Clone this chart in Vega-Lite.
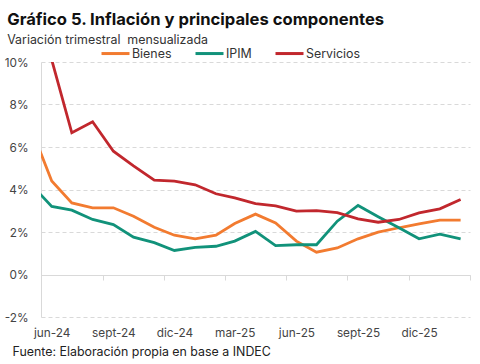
{
  "$schema": "https://vega.github.io/schema/vega-lite/v6.json",
  "width": 429,
  "height": 255,
  "autosize": "none",
  "padding": {"left": 41, "top": 62, "right": 10, "bottom": 47},
  "background": "white",
  "config": {"font": "Inter", "view": {"stroke": null}},
  "title": {
    "text": "Gráfico 5. Inflación y principales componentes",
    "subtitle": "Variación trimestral\u00a0 mensualizada",
    "anchor": "start",
    "frame": "bounds",
    "dx": 3,
    "fontSize": 16.6,
    "fontWeight": "bold",
    "color": "#111111",
    "subtitleFontSize": 12.4,
    "subtitleColor": "#333333",
    "subtitlePadding": 5,
    "offset": -8
  },
  "data": {
    "values": [
      {"mes": "2024-05-01T00:00:00", "serie": "Bienes", "valor": 6.9},
      {"mes": "2024-06-01T00:00:00", "serie": "Bienes", "valor": 4.4},
      {"mes": "2024-07-01T00:00:00", "serie": "Bienes", "valor": 3.37},
      {"mes": "2024-08-01T00:00:00", "serie": "Bienes", "valor": 3.14},
      {"mes": "2024-09-01T00:00:00", "serie": "Bienes", "valor": 3.14},
      {"mes": "2024-10-01T00:00:00", "serie": "Bienes", "valor": 2.74},
      {"mes": "2024-11-01T00:00:00", "serie": "Bienes", "valor": 2.22},
      {"mes": "2024-12-01T00:00:00", "serie": "Bienes", "valor": 1.85},
      {"mes": "2025-01-01T00:00:00", "serie": "Bienes", "valor": 1.68},
      {"mes": "2025-02-01T00:00:00", "serie": "Bienes", "valor": 1.85},
      {"mes": "2025-03-01T00:00:00", "serie": "Bienes", "valor": 2.4},
      {"mes": "2025-04-01T00:00:00", "serie": "Bienes", "valor": 2.84},
      {"mes": "2025-05-01T00:00:00", "serie": "Bienes", "valor": 2.43},
      {"mes": "2025-06-01T00:00:00", "serie": "Bienes", "valor": 1.57},
      {"mes": "2025-07-01T00:00:00", "serie": "Bienes", "valor": 1.05},
      {"mes": "2025-08-01T00:00:00", "serie": "Bienes", "valor": 1.25},
      {"mes": "2025-09-01T00:00:00", "serie": "Bienes", "valor": 1.68},
      {"mes": "2025-10-01T00:00:00", "serie": "Bienes", "valor": 1.99},
      {"mes": "2025-11-01T00:00:00", "serie": "Bienes", "valor": 2.2},
      {"mes": "2025-12-01T00:00:00", "serie": "Bienes", "valor": 2.38},
      {"mes": "2026-01-01T00:00:00", "serie": "Bienes", "valor": 2.56},
      {"mes": "2026-02-01T00:00:00", "serie": "Bienes", "valor": 2.56},
      {"mes": "2024-05-01T00:00:00", "serie": "IPIM", "valor": 4.25},
      {"mes": "2024-06-01T00:00:00", "serie": "IPIM", "valor": 3.2},
      {"mes": "2024-07-01T00:00:00", "serie": "IPIM", "valor": 3.03},
      {"mes": "2024-08-01T00:00:00", "serie": "IPIM", "valor": 2.59},
      {"mes": "2024-09-01T00:00:00", "serie": "IPIM", "valor": 2.35},
      {"mes": "2024-10-01T00:00:00", "serie": "IPIM", "valor": 1.76},
      {"mes": "2024-11-01T00:00:00", "serie": "IPIM", "valor": 1.5},
      {"mes": "2024-12-01T00:00:00", "serie": "IPIM", "valor": 1.13},
      {"mes": "2025-01-01T00:00:00", "serie": "IPIM", "valor": 1.28},
      {"mes": "2025-02-01T00:00:00", "serie": "IPIM", "valor": 1.33},
      {"mes": "2025-03-01T00:00:00", "serie": "IPIM", "valor": 1.57},
      {"mes": "2025-04-01T00:00:00", "serie": "IPIM", "valor": 2.03},
      {"mes": "2025-05-01T00:00:00", "serie": "IPIM", "valor": 1.36},
      {"mes": "2025-06-01T00:00:00", "serie": "IPIM", "valor": 1.4},
      {"mes": "2025-07-01T00:00:00", "serie": "IPIM", "valor": 1.4},
      {"mes": "2025-08-01T00:00:00", "serie": "IPIM", "valor": 2.51},
      {"mes": "2025-09-01T00:00:00", "serie": "IPIM", "valor": 3.25},
      {"mes": "2025-10-01T00:00:00", "serie": "IPIM", "valor": 2.72},
      {"mes": "2025-11-01T00:00:00", "serie": "IPIM", "valor": 2.2},
      {"mes": "2025-12-01T00:00:00", "serie": "IPIM", "valor": 1.68},
      {"mes": "2026-01-01T00:00:00", "serie": "IPIM", "valor": 1.9},
      {"mes": "2026-02-01T00:00:00", "serie": "IPIM", "valor": 1.68},
      {"mes": "2024-05-01T00:00:00", "serie": "Servicios", "valor": 12.5},
      {"mes": "2024-06-01T00:00:00", "serie": "Servicios", "valor": 10.1},
      {"mes": "2024-07-01T00:00:00", "serie": "Servicios", "valor": 6.67},
      {"mes": "2024-08-01T00:00:00", "serie": "Servicios", "valor": 7.19},
      {"mes": "2024-09-01T00:00:00", "serie": "Servicios", "valor": 5.8},
      {"mes": "2024-10-01T00:00:00", "serie": "Servicios", "valor": 5.11},
      {"mes": "2024-11-01T00:00:00", "serie": "Servicios", "valor": 4.44},
      {"mes": "2024-12-01T00:00:00", "serie": "Servicios", "valor": 4.39},
      {"mes": "2025-01-01T00:00:00", "serie": "Servicios", "valor": 4.22},
      {"mes": "2025-02-01T00:00:00", "serie": "Servicios", "valor": 3.8},
      {"mes": "2025-03-01T00:00:00", "serie": "Servicios", "valor": 3.61},
      {"mes": "2025-04-01T00:00:00", "serie": "Servicios", "valor": 3.34},
      {"mes": "2025-05-01T00:00:00", "serie": "Servicios", "valor": 3.23},
      {"mes": "2025-06-01T00:00:00", "serie": "Servicios", "valor": 2.98},
      {"mes": "2025-07-01T00:00:00", "serie": "Servicios", "valor": 3.01},
      {"mes": "2025-08-01T00:00:00", "serie": "Servicios", "valor": 2.91},
      {"mes": "2025-09-01T00:00:00", "serie": "Servicios", "valor": 2.62},
      {"mes": "2025-10-01T00:00:00", "serie": "Servicios", "valor": 2.46},
      {"mes": "2025-11-01T00:00:00", "serie": "Servicios", "valor": 2.59},
      {"mes": "2025-12-01T00:00:00", "serie": "Servicios", "valor": 2.9},
      {"mes": "2026-01-01T00:00:00", "serie": "Servicios", "valor": 3.09},
      {"mes": "2026-02-01T00:00:00", "serie": "Servicios", "valor": 3.53}
    ]
  },
  "resolve": {"axis": {"x": "independent"}},
  "layer": [
    {
      "mark": {"type": "line", "clip": true, "strokeOpacity": 0},
      "encoding": {
        "x": {
          "field": "mes",
          "type": "temporal",
          "scale": {"domain": [{"year": 2024, "month": 5, "date": 16}, {"year": 2026, "month": 2, "date": 15}]},
          "axis": {
            "orient": "bottom",
            "title": null,
            "labels": false,
            "ticks": true,
            "tickSize": 5,
            "tickColor": "#d9d9d9",
            "tickWidth": 1,
            "domain": true,
            "domainColor": "#d9d9d9",
            "domainWidth": 1,
            "grid": false,
            "offset": -42,
            "values": [
              {"year": 2024, "month": 5, "date": 16},
              {"year": 2024, "month": 8, "date": 16},
              {"year": 2024, "month": 11, "date": 16},
              {"year": 2025, "month": 2, "date": 15},
              {"year": 2025, "month": 5, "date": 16},
              {"year": 2025, "month": 8, "date": 16},
              {"year": 2025, "month": 11, "date": 16},
              {"year": 2026, "month": 2, "date": 15}
            ]
          }
        },
        "y": {"field": "valor", "type": "quantitative"},
        "color": {"field": "serie", "type": "nominal"}
      }
    },
    {
      "mark": {"type": "line", "clip": true, "strokeWidth": 2.8},
      "encoding": {
        "x": {
          "field": "mes",
          "type": "temporal",
          "axis": {
            "orient": "bottom",
            "title": "Fuente: Elaboración propia en base a INDEC",
            "titleFontSize": 12.4,
            "titleFontWeight": "normal",
            "titleColor": "#222222",
            "titleAnchor": "start",
            "titleAlign": "left",
            "titleBaseline": "alphabetic",
            "titleX": -29,
            "titleY": 38,
            "ticks": false,
            "domain": false,
            "grid": false,
            "labelFontSize": 11.8,
            "labelColor": "#444444",
            "labelPadding": 10,
            "labelFlush": false,
            "labelOverlap": false,
            "values": [
              {"year": 2024, "month": 6, "date": 1},
              {"year": 2024, "month": 9, "date": 1},
              {"year": 2024, "month": 12, "date": 1},
              {"year": 2025, "month": 3, "date": 1},
              {"year": 2025, "month": 6, "date": 1},
              {"year": 2025, "month": 9, "date": 1},
              {"year": 2025, "month": 12, "date": 1}
            ],
            "labelExpr": "['ene','feb','mar','abr','may','jun','jul','ago','sept','oct','nov','dic'][month(datum.value)] + '-' + timeFormat(datum.value, '%y')"
          }
        },
        "y": {
          "field": "valor",
          "type": "quantitative",
          "scale": {"domain": [-2, 10]},
          "axis": {
            "title": null,
            "values": [-2, 0, 2, 4, 6, 8, 10],
            "labelExpr": "datum.value + '%'",
            "labelFontSize": 11.8,
            "labelColor": "#444444",
            "labelPadding": 13,
            "ticks": false,
            "domain": true,
            "domainColor": "#d9d9d9",
            "grid": true,
            "gridColor": "#d9d9d9",
            "gridDash": {"condition": {"test": "datum.value === 0", "value": []}, "value": [4, 3]}
          }
        },
        "color": {
          "field": "serie",
          "type": "nominal",
          "scale": {"domain": ["Bienes", "IPIM", "Servicios"], "range": ["#F27B30", "#11927A", "#C1272D"]},
          "legend": {
            "orient": "none",
            "legendX": 59,
            "legendY": -24,
            "direction": "horizontal",
            "title": null,
            "symbolType": "stroke",
            "symbolSize": 784,
            "symbolStrokeWidth": 3,
            "labelFontSize": 12.4,
            "labelColor": "#333333",
            "labelOffset": 1,
            "columnPadding": 17
          }
        }
      }
    }
  ]
}
